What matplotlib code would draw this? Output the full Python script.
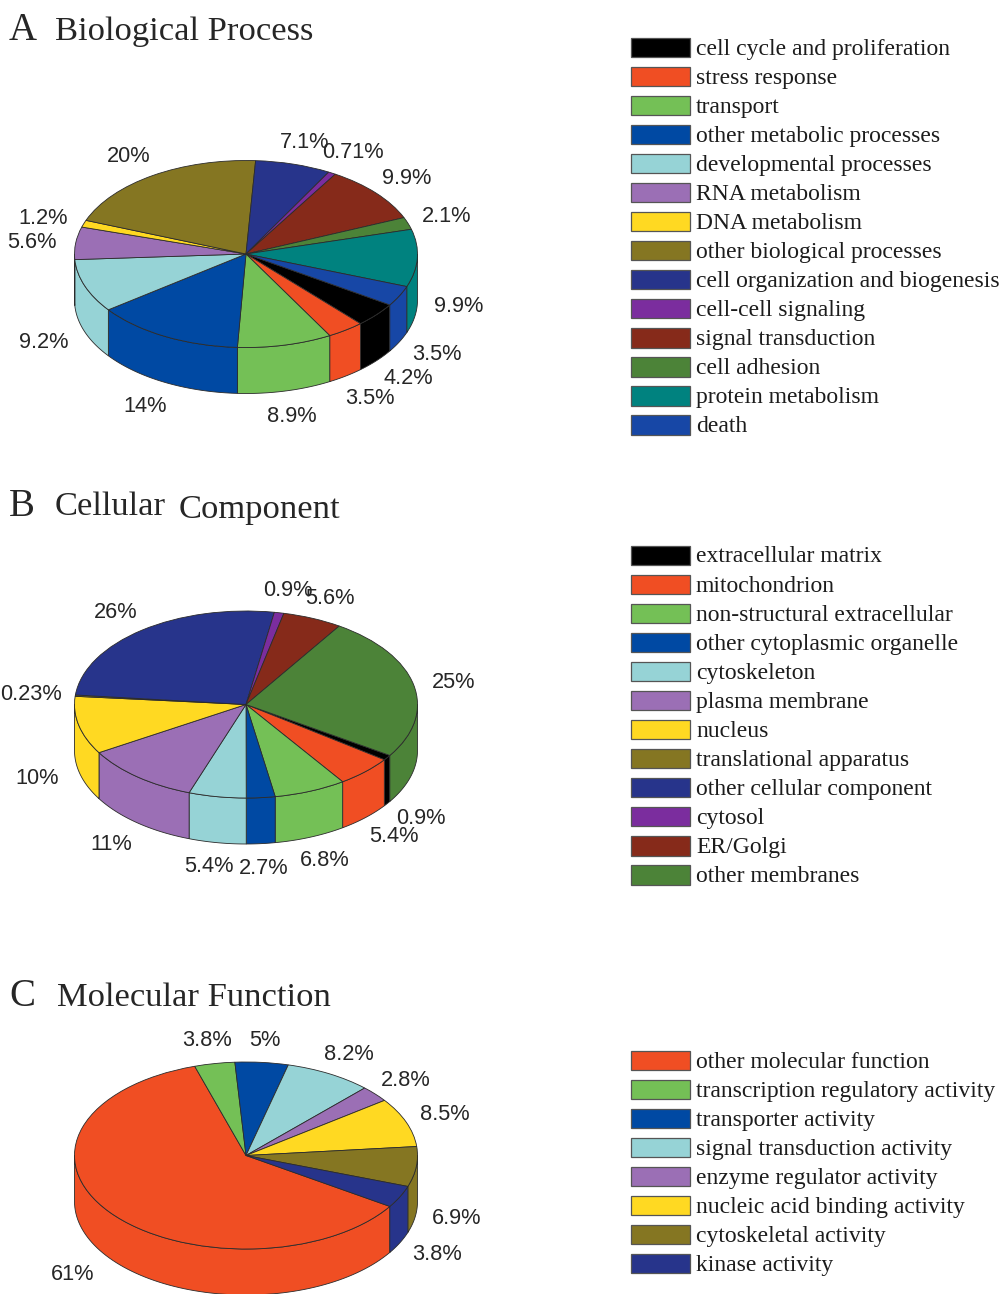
import numpy as np
import matplotlib
matplotlib.use("Agg")
import matplotlib.pyplot as plt
from matplotlib.patches import Rectangle, Polygon

W, H = 1002, 1294

BLACK, RED, GREEN, BLUE, CYAN, PURPLE, YELLOW, OLIVE, NAVY, VIOLET, BROWN, DGREEN, TEAL, DEATH = (
    "#000000", "#F04E23", "#74C056", "#0049A3", "#96D3D6", "#9B6FB5", "#FFD922",
    "#857622", "#27348B", "#7B2D9E", "#862A1A", "#4C8338", "#00827F", "#1747A6")

# ---------- Panel A
bp_names = ["cell cycle and proliferation", "stress response", "transport",
            "other metabolic processes", "developmental processes", "RNA metabolism",
            "DNA metabolism", "other biological processes", "cell organization and biogenesis",
            "cell-cell signaling", "signal transduction", "cell adhesion",
            "protein metabolism", "death"]
bp_values = [4.2, 3.5, 8.9, 14, 9.2, 5.6, 1.2, 20, 7.1, 0.71, 9.9, 2.1, 9.9, 3.5]
bp_labels = ["4.2%", "3.5%", "8.9%", "14%", "9.2%", "5.6%", "1.2%", "20%", "7.1%",
             "0.71%", "9.9%", "2.1%", "9.9%", "3.5%"]
bp_colors = [BLACK, RED, GREEN, BLUE, CYAN, PURPLE, YELLOW, OLIVE, NAVY, VIOLET, BROWN, DGREEN, TEAL, DEATH]
bp_label_xy = [(408, 376), (370, 396), (292, 414), (145, 404), (44, 341), (32, 241), (43, 216),
               (129, 155), (305, 141), (353, 151), (407, 177), (447, 215), (459, 305), (437, 352)]

# ---------- Panel B
cc_names = ["extracellular matrix", "mitochondrion", "non-structural extracellular",
            "other cytoplasmic organelle", "cytoskeleton", "plasma membrane", "nucleus",
            "translational apparatus", "other cellular component", "cytosol", "ER/Golgi",
            "other membranes"]
cc_values = [0.9, 5.4, 6.8, 2.7, 5.4, 11, 10, 0.23, 26, 0.9, 5.6, 25]
cc_labels = ["0.9%", "5.4%", "6.8%", "2.7%", "5.4%", "11%", "10%", "0.23%", "26%", "0.9%", "5.6%", "25%"]
cc_colors = [BLACK, RED, GREEN, BLUE, CYAN, PURPLE, YELLOW, OLIVE, NAVY, VIOLET, BROWN, DGREEN]
cc_label_xy = [(421, 817), (394, 834), (325, 858), (264, 866), (209, 865), (111, 842), (37, 777),
               (31, 692), (116, 610), (288, 589), (330, 596), (454, 680)]

# ---------- Panel C
mf_names = ["other molecular function", "transcription regulatory activity", "transporter activity",
            "signal transduction activity", "enzyme regulator activity", "nucleic acid binding activity",
            "cytoskeletal activity", "kinase activity"]
mf_values = [61, 3.8, 5, 8.2, 2.8, 8.5, 6.9, 3.8]
mf_labels = ["61%", "3.8%", "5%", "8.2%", "2.8%", "8.5%", "6.9%", "3.8%"]
mf_colors = [RED, GREEN, BLUE, CYAN, PURPLE, YELLOW, OLIVE, NAVY]
mf_label_xy = [(73, 1272), (207, 1039), (265, 1039), (349, 1052), (406, 1078), (445, 1113),
               (457, 1216), (437, 1253)]

SERIF = "Liberation Serif"
SANS = "Liberation Sans"
EDGE = "#2b2b2b"
TXT = "#262626"

fig = plt.figure(figsize=(W / 100, H / 100), dpi=100, facecolor="white")
overlay = fig.add_axes([0, 0, 1, 1], zorder=5)
overlay.set_xlim(0, W)
overlay.set_ylim(H, 0)
overlay.axis("off")
overlay.patch.set_alpha(0)


def pie3d(values, colors, cx, cy, rx=171.5, ry=93.5, depth=46, start=-33):
    m = 4  # margin in px around the disc
    l, r = cx - rx - m, cx + rx + m
    t, b = cy - ry - m, cy + ry + depth + m
    ax = fig.add_axes([l / W, 1 - b / H, (r - l) / W, (b - t) / H], zorder=2)
    wedges, _ = ax.pie(values, colors=colors, startangle=start, counterclock=False,
                       wedgeprops=dict(edgecolor=EDGE, linewidth=0.6, zorder=3))
    ax.set_aspect("auto")
    ax.set_xlim(-(rx + m) / rx, (rx + m) / rx)
    ax.set_ylim(-(ry + depth + m) / ry, (ry + m) / ry)
    d = depth / ry
    for w, c in zip(wedges, colors):
        a1, a2 = w.theta1, w.theta2
        # visible part of the rim: angles in the lower half of the ellipse
        for k in (-360, 0, 360):
            lo, hi = max(a1 + k, -180), min(a2 + k, 0)
            if hi > lo:
                th = np.radians(np.linspace(lo, hi, 80))
                x, y = np.cos(th), np.sin(th)
                pts = np.r_[np.c_[x, y], np.c_[x, y - d][::-1]]
                ax.add_patch(Polygon(pts, closed=True, facecolor=c, edgecolor=EDGE,
                                     linewidth=0.6, zorder=1))
    return ax


def legend(names, colors, y0, step=29.05):
    for i, (n, c) in enumerate(zip(names, colors)):
        y = y0 + i * step
        overlay.add_patch(Rectangle((631.5, y - 9.5), 59, 19.5, facecolor=c,
                                    edgecolor="#555555", linewidth=0.9))
        overlay.text(696, y + 2, n, family=SERIF, fontsize=17, va="center", ha="left", color="#1c1c1c")


def labels(txts, xy):
    for s, (x, y) in zip(txts, xy):
        overlay.text(x, y + 2, s, family=SANS, fontsize=15.7, ha="center", va="center", color=TXT)


pie3d(bp_values, bp_colors, 246, 254)
pie3d(cc_values, cc_colors, 246, 704.5)
pie3d(mf_values, mf_colors, 246, 1155.5)

labels(bp_labels, bp_label_xy)
labels(cc_labels, cc_label_xy)
labels(mf_labels, mf_label_xy)

legend(bp_names, bp_colors, 47)
legend(cc_names, cc_colors, 555)
legend(mf_names, mf_colors, 1060)

for s, x, y, fs in [("A", 9, 31, 28), ("Biological Process", 55, 32, 24.8),
                    ("B", 9, 506, 28), ("Cellular", 55, 507, 24.8), ("Component", 179, 510, 24.8),
                    ("C", 9, 996, 28), ("Molecular Function", 57, 998, 24.8)]:
    overlay.text(x, y, s, family=SERIF, fontsize=fs, ha="left", va="center", color=TXT)

fig.savefig("out.png", dpi=100, facecolor="white")
